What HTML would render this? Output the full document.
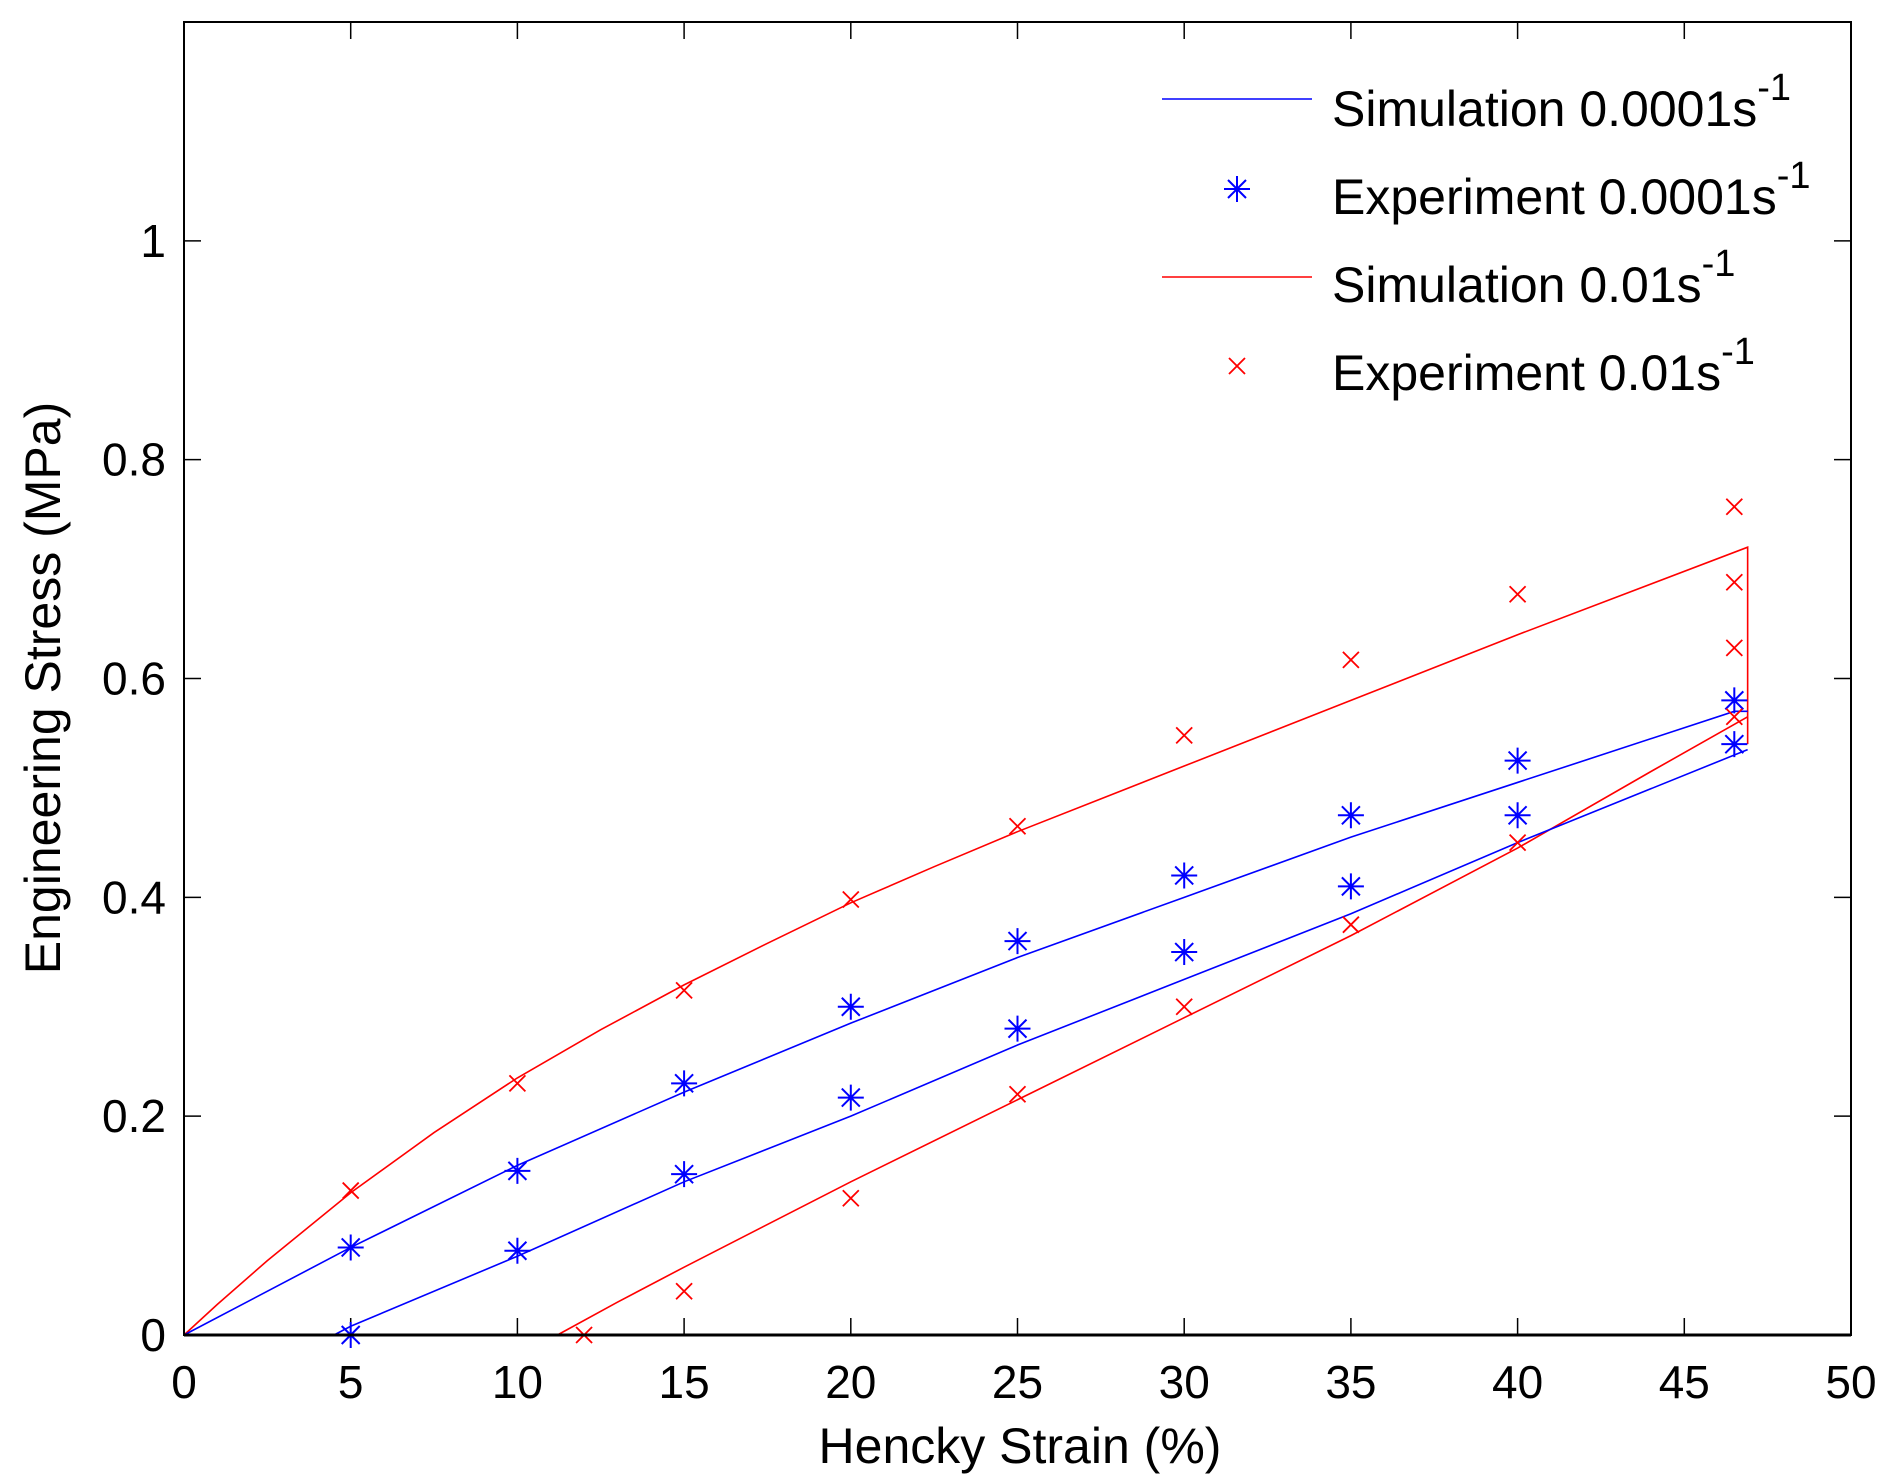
<!DOCTYPE html>
<html><head><meta charset="utf-8"><style>
html,body{margin:0;padding:0;background:#fff}
svg{display:block;font-family:"Liberation Sans",Arial,sans-serif}
</style></head><body>
<svg id="s" xmlns="http://www.w3.org/2000/svg" width="1890" height="1475" viewBox="0 0 1890 1475">
<rect width="1890" height="1475" fill="#fff"/>
</svg>
<script>
const s=document.getElementById('s'),NS='http://www.w3.org/2000/svg';
const X0=184,X1=1851,Y0=1335,YT=22;
const px=v=>X0+(X1-X0)*v/50, py=v=>Y0-(Y0-YT)*v/1.2;
function el(t,a,txt){const e=document.createElementNS(NS,t);for(const k in a)e.setAttribute(k,a[k]);if(txt!=null)e.textContent=txt;s.appendChild(e);return e;}
for(let i=0;i<=10;i++){const x=px(i*5);
 el('line',{x1:x,y1:Y0,x2:x,y2:Y0-17,stroke:'#000','stroke-width':1.5});
 el('line',{x1:x,y1:YT,x2:x,y2:YT+17,stroke:'#000','stroke-width':1.5});
 el('text',{x:x,y:1398,'font-size':46,'text-anchor':'middle'},String(i*5));}
for(let i=0;i<=5;i++){const v=i*0.2,y=py(v);
 el('line',{x1:X0,y1:y,x2:X0+17,y2:y,stroke:'#000','stroke-width':1.5});
 el('line',{x1:X1,y1:y,x2:X1-17,y2:y,stroke:'#000','stroke-width':1.5});
 el('text',{x:166,y:y+16,'font-size':46,'text-anchor':'end'},i==0?'0':i==5?'1':v.toFixed(1));}
el('text',{x:1020,y:1463,'font-size':50,'text-anchor':'middle'},'Hencky Strain (%)');
el('text',{x:0,y:0,'font-size':50,'text-anchor':'middle',transform:'translate(60,688) rotate(-90)'},'Engineering Stress (MPa)');
function line(pts,c){el('polyline',{points:pts.map(p=>px(p[0])+','+py(p[1])).join(' '),fill:'none',stroke:c,'stroke-width':1.6});}
line([[0,0],[1,0.028],[2.5,0.068],[5,0.13],[7.5,0.185],[10,0.235],[12.5,0.279],[15,0.32],[17.5,0.358],[20,0.395],[22.5,0.428],[25,0.46],[27.5,0.49],[30,0.52],[35,0.58],[40,0.64],[46.9,0.72],[46.9,0.54]],'#f00');
line([[46.9,0.565],[44,0.515],[40,0.445],[35,0.365],[30,0.29],[25,0.215],[20,0.14],[15,0.062],[13,0.03],[11.2,0]],'#f00');
line([[0,0],[5,0.08],[10,0.155],[15,0.222],[20,0.285],[25,0.345],[30,0.40],[35,0.455],[40,0.505],[46.5,0.57],[46.9,0.57]],'#00f');
line([[46.9,0.535],[40,0.45],[35,0.385],[30,0.325],[25,0.265],[20,0.2],[15,0.14],[10,0.072],[5,0.008],[4.5,0]],'#00f');
function star(x,y){const r=13;
 el('path',{d:`M${x-r},${y}H${x+r}M${x},${y-r}V${y+r}M${x-9},${y-9}L${x+9},${y+9}M${x-9},${y+9}L${x+9},${y-9}`,stroke:'#00f','stroke-width':2,fill:'none'});}
function cross(x,y){const r=8;
 el('path',{d:`M${x-r},${y-r}L${x+r},${y+r}M${x-r},${y+r}L${x+r},${y-r}`,stroke:'#f00','stroke-width':1.8,fill:'none'});}
[[5,0.08],[5,0],[10,0.15],[10,0.077],[15,0.23],[15,0.147],[20,0.30],[20,0.217],[25,0.36],[25,0.28],[30,0.42],[30,0.35],[35,0.475],[35,0.41],[40,0.525],[40,0.475],[46.5,0.58],[46.5,0.54]].forEach(p=>star(px(p[0]),py(p[1])));
[[5,0.132],[10,0.23],[15,0.315],[20,0.398],[25,0.465],[30,0.548],[35,0.617],[40,0.677],[46.5,0.757],[46.5,0.688],[46.5,0.628],[46.5,0.565],[40,0.45],[35,0.375],[30,0.30],[25,0.22],[20,0.125],[15,0.04],[12,0]].forEach(p=>cross(px(p[0]),py(p[1])));
el('rect',{x:X0,y:YT,width:X1-X0,height:Y0-YT,fill:'none',stroke:'#000','stroke-width':2});
el('line',{x1:X0,y1:Y0,x2:X1,y2:Y0,stroke:'#000','stroke-width':3});
el('line',{x1:1162,y1:99,x2:1312,y2:99,stroke:'#00f','stroke-width':1.6});
star(1237,189);
el('line',{x1:1162,y1:277,x2:1312,y2:277,stroke:'#f00','stroke-width':1.6});
cross(1237,366);
const L=[['Simulation 0.0001s',126],['Experiment 0.0001s',214],['Simulation 0.01s',302],['Experiment 0.01s',390]];
L.forEach(l=>{const t=el('text',{x:1332,y:l[1],'font-size':50,'textLength':0});t.removeAttribute('textLength');t.textContent=l[0];
 const ts=document.createElementNS(NS,'tspan');ts.setAttribute('dy',-26);ts.setAttribute('font-size',38);ts.textContent='-1';t.appendChild(ts);});
</script>
</body></html>
